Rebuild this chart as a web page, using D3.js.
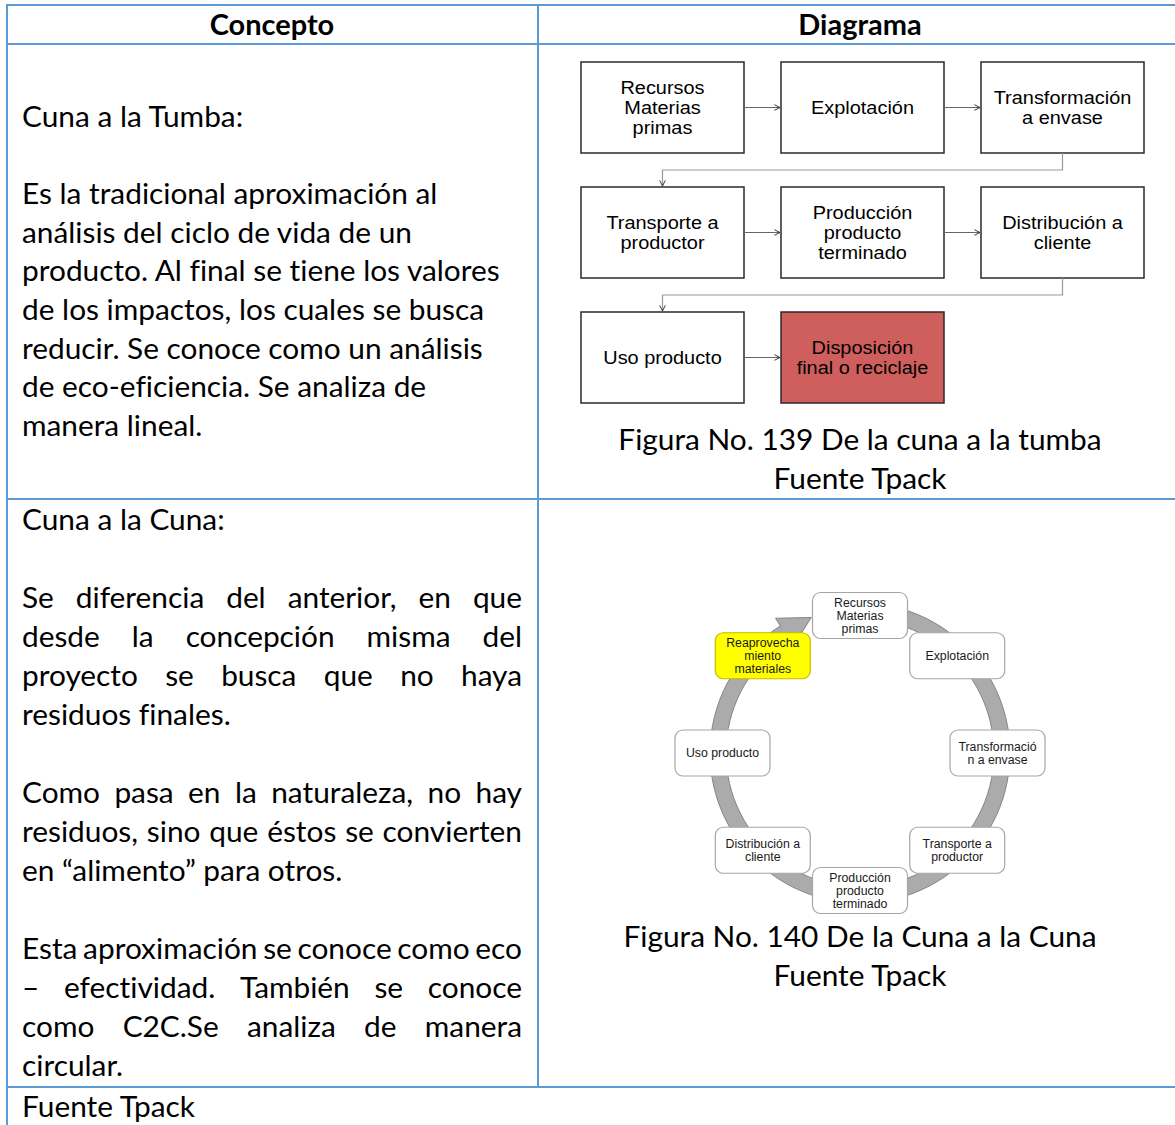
<!DOCTYPE html>
<html><head><meta charset="utf-8">
<script src="https://cdn.jsdelivr.net/npm/d3@7"></script>
<style>body{margin:0;background:#fff}svg{display:block}text{font-variant-ligatures:none;font-feature-settings:"liga" 0}</style>
</head><body>
<svg id="c" width="1175" height="1125"></svg>
<script>
// ---------- data ----------
const headers = ["Concepto", "Diagrama"];
const tumbaTitle = "Cuna a la Tumba:";
const tumbaLines = [
  "Es la tradicional aproximación al",
  "análisis del ciclo de vida de un",
  "producto. Al final se tiene los valores",
  "de los impactos, los cuales se busca",
  "reducir. Se conoce como un análisis",
  "de eco-eficiencia. Se analiza de",
  "manera lineal."
];
const cunaTitle = "Cuna a la Cuna:";
const cunaPara1 = ["Se diferencia del anterior, en que", "desde la concepción misma del", "proyecto se busca que no haya", "residuos finales."];
const cunaPara2 = ["Como pasa en la naturaleza, no hay", "residuos, sino que éstos se convierten", "en “alimento” para otros."];
const cunaPara3 = ["Esta aproximación se conoce como eco", "– efectividad. También se conoce", "como C2C.Se analiza de manera", "circular."];
const linearSteps = [
  ["Recursos", "Materias", "primas"], ["Explotación"], ["Transformación", "a envase"],
  ["Transporte a", "productor"], ["Producción", "producto", "terminado"], ["Distribución a", "cliente"],
  ["Uso producto"], ["Disposición", "final o reciclaje"]
];
const linearHighlight = [false, false, false, false, false, false, false, true];
const cycleSteps = [
  ["Recursos", "Materias", "primas"], ["Explotación"], ["Transformació", "n a envase"],
  ["Transporte a", "productor"], ["Producción", "producto", "terminado"], ["Distribución a", "cliente"],
  ["Uso producto"], ["Reaprovecha", "miento", "materiales"]
];
const cycleHighlight = [false, false, false, false, false, false, false, true];
const caption1 = ["Figura No. 139 De la cuna a la tumba", "Fuente Tpack"];
const caption2 = ["Figura No. 140 De la Cuna a la Cuna", "Fuente Tpack"];
const footer = "Fuente Tpack";

// ---------- drawing ----------
const svg = d3.select("#c");
const FONT = "Lato, 'Open Sans', sans-serif";
const ARIAL = "'Liberation Sans', Arial, sans-serif";
const BLUE = "#5B9BD5";

const tmp = svg.append("text").attr("font-family", FONT).attr("x", -1000).attr("y", -1000);
function measure(str, size, weight) {
  tmp.attr("font-size", size).attr("font-weight", weight || "normal").text(str);
  return tmp.node().getComputedTextLength();
}
const FS = 28 * 478 / measure(tumbaLines[2], 28);
tmp.remove();

// table grid
const grid = svg.append("g").attr("stroke", BLUE).attr("stroke-width", 2);
[[6, 5, 1175, 5], [6, 44, 1175, 44], [6, 499, 1175, 499], [6, 1087, 1175, 1087],
 [7, 4, 7, 1125], [538, 4, 538, 1087]].forEach(l =>
  grid.append("line").attr("x1", l[0]).attr("y1", l[1]).attr("x2", l[2]).attr("y2", l[3]));

// headers
const colCenter = d3.scaleOrdinal().domain(headers).range([272, 860]);
svg.selectAll("text.hdr").data(headers).join("text").attr("class", "hdr")
  .attr("x", d => colCenter(d)).attr("y", 35).attr("text-anchor", "middle")
  .attr("font-family", FONT).attr("font-weight", "bold").attr("font-size", FS * 0.97).attr("fill", "#000").text(d => d);

// left column row 1
const XL = 22, XR = 522;
const y1 = d3.scaleLinear().domain([0, 1]).range([127, 165.6]);
const r1 = [tumbaTitle, ""].concat(tumbaLines);
svg.append("g").selectAll("text").data(r1).join("text")
  .attr("x", XL).attr("y", (d, i) => y1(i)).attr("font-family", FONT).attr("font-size", FS).attr("fill", "#000").text(d => d);

// left column row 2 (justified)
const y2 = d3.scaleLinear().domain([0, 1]).range([530, 569]);
const rows2 = [{t: cunaTitle, j: false}, {t: "", j: false}];
[cunaPara1, cunaPara2, cunaPara3].forEach((p, pi) => {
  p.forEach((l, li) => rows2.push({t: l, j: li < p.length - 1}));
  if (pi < 2) rows2.push({t: "", j: false});
});
const g2 = svg.append("g").attr("font-family", FONT).attr("font-size", FS).attr("fill", "#000");
rows2.forEach((r, i) => {
  const y = y2(i);
  if (!r.j) { g2.append("text").attr("x", XL).attr("y", y).text(r.t); return; }
  const words = r.t.split(" ");
  const ws = words.map(w => { const t = g2.append("text").text(w); const w2 = t.node().getComputedTextLength(); t.remove(); return w2; });
  const gap = (XR - XL - d3.sum(ws)) / (words.length - 1);
  let x = XL;
  words.forEach((w, k) => { g2.append("text").attr("x", x).attr("y", y).text(w); x += ws[k] + gap; });
});

// footer
svg.append("text").attr("x", XL).attr("y", 1117).attr("font-family", FONT).attr("font-size", FS).attr("fill", "#000").text(footer);

// captions
[[caption1, 450], [caption2, 947]].forEach(([cap, y0]) => {
  svg.append("g").selectAll("text").data(cap).join("text")
    .attr("x", 860).attr("y", (d, i) => y0 + i * 39).attr("text-anchor", "middle")
    .attr("font-family", FONT).attr("font-size", FS).attr("fill", "#000").text(d => d);
});

// ---------- linear flowchart ----------
const defs = svg.append("defs");
defs.append("marker").attr("id", "ah").attr("viewBox", "0 0 10 10").attr("refX", 9).attr("refY", 5)
  .attr("markerWidth", 7).attr("markerHeight", 7).attr("orient", "auto-start-reverse").attr("markerUnits", "userSpaceOnUse")
  .append("path").attr("d", "M1,1 L9,5 L1,9").attr("fill", "none").attr("stroke", "#333").attr("stroke-width", 1.4);

const BW = 163, BH = 91;
const colX = d3.scaleLinear().domain([0, 1]).range([581, 781]);
const rowY = d3.scaleLinear().domain([0, 1]).range([62, 187]);
const lin = svg.append("g");
linearSteps.forEach((s, i) => {
  const c = i % 3, r = Math.floor(i / 3);
  const x = colX(c), y = rowY(r);
  lin.append("rect").attr("x", x).attr("y", y).attr("width", BW).attr("height", BH)
    .attr("fill", linearHighlight[i] ? "#cf5f5d" : "#fff").attr("stroke", "#2a2a2a").attr("stroke-width", 1.5);
  const lh = 20, cy = y + BH / 2;
  s.forEach((t, k) => lin.append("text")
    .attr("transform", `translate(${x + BW / 2},${cy + (k - (s.length - 1) / 2) * lh + 6.5}) scale(1.12,1.04)`)
    .attr("text-anchor", "middle").attr("font-family", ARIAL).attr("font-size", 17.8).attr("fill", "#000").text(t));
  // horizontal arrow to next in same row
  if (i < linearSteps.length - 1 && c < 2) {
    lin.append("line").attr("x1", x + BW).attr("y1", cy).attr("x2", colX(c + 1) - 1).attr("y2", cy)
      .attr("stroke", "#666").attr("stroke-width", 1.2).attr("marker-end", "url(#ah)");
  }
  // connector to next row
  if (c === 2 && i < linearSteps.length - 1) {
    const xs = x + BW / 2, ys = y + BH, ym = ys + (rowY(r + 1) - ys) / 2, xe = colX(0) + BW / 2, ye = rowY(r + 1) - 1;
    lin.append("path").attr("d", `M${xs},${ys} V${ym} H${xe} V${ye}`).attr("fill", "none")
      .attr("stroke", "#999").attr("stroke-width", 1.2).attr("marker-end", "url(#ah)");
  }
});

// ---------- cycle ----------
const CX = 860, CY = 753, RN = 137.5, RM = 142, RW = 8;
const ang = d3.scaleLinear().domain([0, cycleSteps.length]).range([0, 2 * Math.PI]);
const cyc = svg.append("g");
const pt = (a, r) => [CX + r * Math.sin(a), CY - r * Math.cos(a)];
// ring band
const aStart = 0.05, aEnd = 2 * Math.PI - 0.56, aTip = 2 * Math.PI - 0.345;
cyc.append("path").attr("transform", `translate(${CX},${CY})`)
  .attr("d", d3.arc()({innerRadius: RM - RW, outerRadius: RM + RW, startAngle: aStart, endAngle: aEnd}))
  .attr("fill", "#ababab").attr("stroke", "#858585").attr("stroke-width", 1);
const b1 = pt(aEnd, RM - 16), b2 = pt(aEnd, RM + 17), tip = pt(aTip, RM + 2);
cyc.append("path").attr("d", `M${b1[0]},${b1[1]} L${tip[0]},${tip[1]} L${b2[0]},${b2[1]} Z`)
  .attr("fill", "#ababab").attr("stroke", "#858585").attr("stroke-width", 1).attr("stroke-linejoin", "miter");
// cover seam between band and head
const s1 = pt(aEnd, RM - RW + 1), s2 = pt(aEnd, RM + RW - 1);
cyc.append("line").attr("x1", s1[0]).attr("y1", s1[1]).attr("x2", s2[0]).attr("y2", s2[1]).attr("stroke", "#ababab").attr("stroke-width", 2.5);

const NW = 95, NH = 46;
cycleSteps.forEach((s, i) => {
  const [x, y] = pt(ang(i), RN);
  cyc.append("rect").attr("x", x - NW / 2).attr("y", y - NH / 2).attr("width", NW).attr("height", NH)
    .attr("rx", 8).attr("ry", 8)
    .attr("fill", cycleHighlight[i] ? "#ffff00" : "#fff").attr("stroke", cycleHighlight[i] ? "#c9b800" : "#a6a6a6").attr("stroke-width", 1.2);
  const lh = 13.3;
  s.forEach((t, k) => cyc.append("text").attr("x", x).attr("y", y + (k - (s.length - 1) / 2) * lh + 4.3)
    .attr("text-anchor", "middle").attr("font-family", ARIAL).attr("font-size", 12.3).attr("fill", "#1a1a1a").text(t));
});
</script>
</body></html>
